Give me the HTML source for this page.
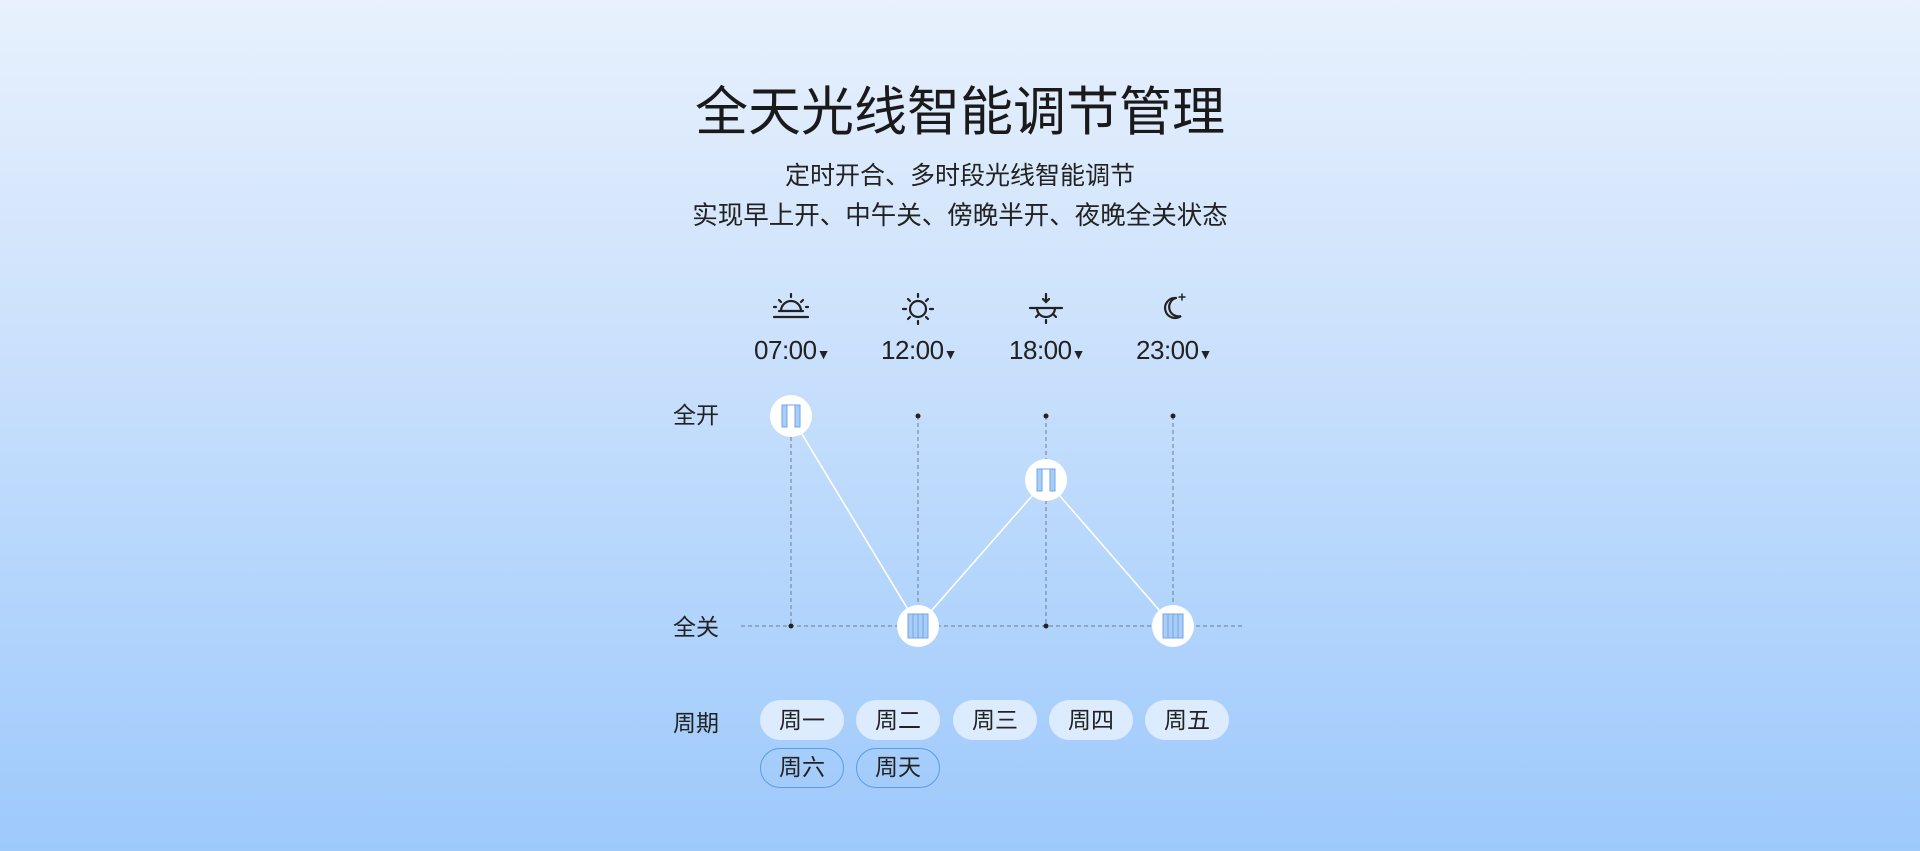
<!DOCTYPE html>
<html><head><meta charset="utf-8"><style>
body{margin:0;width:1920px;height:851px;overflow:hidden;background:linear-gradient(180deg,#e8f1fd 0%,#cfe3fc 35%,#b3d5fc 70%,#9ec9fb 100%);font-family:"Liberation Sans","Noto Sans CJK SC",sans-serif;color:#222;position:relative}
.t{position:absolute;white-space:nowrap}
.pill{position:absolute;width:84px;height:40px;border-radius:20px;background:#dcebfd;text-align:center;line-height:40px;font-size:23px;color:#222}
.pill.o{background:transparent;border:1.5px solid #5b9be8;box-sizing:border-box;line-height:37px}
</style></head><body>
<div class="t" style="left:0;width:1920px;text-align:center;top:70px;font-size:53px;color:#1a1a1a">全天光线智能调节管理</div>
<div class="t" style="left:0;width:1920px;text-align:center;top:156px;font-size:25px">定时开合、多时段光线智能调节</div>
<div class="t" style="left:0;width:1920px;text-align:center;top:195px;font-size:25.5px">实现早上开、中午关、傍晚半开、夜晚全关状态</div>

<div class="t" style="left:752px;top:335px;width:80px;text-align:center;font-size:26px;letter-spacing:-0.5px">07:00<span style="font-size:14px">▼</span></div>
<div class="t" style="left:879px;top:335px;width:80px;text-align:center;font-size:26px;letter-spacing:-0.5px">12:00<span style="font-size:14px">▼</span></div>
<div class="t" style="left:1007px;top:335px;width:80px;text-align:center;font-size:26px;letter-spacing:-0.5px">18:00<span style="font-size:14px">▼</span></div>
<div class="t" style="left:1134px;top:335px;width:80px;text-align:center;font-size:26px;letter-spacing:-0.5px">23:00<span style="font-size:14px">▼</span></div>

<div class="t" style="left:673px;top:396px;font-size:23px">全开</div>
<div class="t" style="left:673px;top:608px;font-size:23px">全关</div>
<div class="t" style="left:673px;top:704px;font-size:23px">周期</div>

<svg width="1920" height="851" style="position:absolute;left:0;top:0">
<g stroke="#222" stroke-width="2.2" fill="none" stroke-linecap="round">
 <line x1="774" y1="317" x2="808" y2="317"/><line x1="779" y1="311" x2="803" y2="311"/>
 <path d="M781 311 A10 10 0 0 1 801 311"/>
 <line x1="791" y1="294" x2="791" y2="297"/><line x1="779" y1="300" x2="781" y2="302"/><line x1="803" y1="300" x2="801" y2="302"/><line x1="774" y1="307" x2="776" y2="307"/><line x1="806" y1="307" x2="808" y2="307"/>
 <circle cx="918" cy="309" r="8"/>
 <line x1="918" y1="294" x2="918" y2="297"/><line x1="918" y1="321" x2="918" y2="324"/><line x1="903" y1="309" x2="906" y2="309"/><line x1="930" y1="309" x2="933" y2="309"/>
 <line x1="908" y1="299" x2="910" y2="301"/><line x1="928" y1="299" x2="926" y2="301"/><line x1="908" y1="319" x2="910" y2="317"/><line x1="928" y1="319" x2="926" y2="317"/>
 <line x1="1030" y1="308" x2="1062" y2="308"/><path d="M1037 308 A9 9 0 0 0 1055 308"/>
 <line x1="1046" y1="294" x2="1046" y2="302"/><path d="M1043 299 L1046 302 L1049 299"/>
 <line x1="1046" y1="320" x2="1046" y2="323"/><line x1="1036" y1="317" x2="1038" y2="315"/><line x1="1056" y1="317" x2="1054" y2="315"/>
 <path d="M1176 298 A10 10 0 1 0 1181 316 A9 9 0 0 1 1176 298"/>
 <line x1="1182" y1="294" x2="1182" y2="300" stroke-width="1.5"/><line x1="1179" y1="297" x2="1185" y2="297" stroke-width="1.5"/>
</g>
<g stroke="#6a7c96" stroke-width="1" stroke-dasharray="4 3">
 <line x1="741" y1="626" x2="1243" y2="626"/>
 <line x1="791" y1="416" x2="791" y2="626"/><line x1="918" y1="416" x2="918" y2="626"/>
 <line x1="1046" y1="416" x2="1046" y2="626"/><line x1="1173" y1="416" x2="1173" y2="626"/>
</g>
<g fill="#222"><circle cx="918" cy="416" r="2.5"/><circle cx="1046" cy="416" r="2.5"/><circle cx="1173" cy="416" r="2.5"/><circle cx="791" cy="626" r="2.5"/><circle cx="1046" cy="626" r="2.5"/></g>
<polyline points="791,416 918,626 1046,480 1173,626" fill="none" stroke="#fff" stroke-width="1.6"/>
<g fill="#fff"><circle cx="791" cy="416" r="21"/><circle cx="918" cy="626" r="21"/><circle cx="1046" cy="480" r="21"/><circle cx="1173" cy="626" r="21"/></g>
<g fill="#a9cdf6" stroke="#6fa6e8" stroke-width="1">
 <rect x="782" y="405" width="5" height="22"/><rect x="795" y="405" width="5" height="22"/><line x1="782" y1="405" x2="800" y2="405"/>
 <rect x="1037" y="469" width="5" height="22"/><rect x="1050" y="469" width="5" height="22"/><line x1="1037" y1="469" x2="1055" y2="469"/>
 <rect x="908" y="614" width="20" height="24"/><rect x="1163" y="614" width="20" height="24"/>
</g>
<g stroke="#6fa6e8" stroke-width="1"><line x1="913" y1="614" x2="913" y2="638"/><line x1="918" y1="614" x2="918" y2="638"/><line x1="923" y1="614" x2="923" y2="638"/><line x1="1168" y1="614" x2="1168" y2="638"/><line x1="1173" y1="614" x2="1173" y2="638"/><line x1="1178" y1="614" x2="1178" y2="638"/></g>
</svg>

<div class="pill" style="left:760px;top:700px">周一</div>
<div class="pill" style="left:856px;top:700px">周二</div>
<div class="pill" style="left:953px;top:700px">周三</div>
<div class="pill" style="left:1049px;top:700px">周四</div>
<div class="pill" style="left:1145px;top:700px">周五</div>
<div class="pill o" style="left:760px;top:748px">周六</div>
<div class="pill o" style="left:856px;top:748px">周天</div>
</body></html>
